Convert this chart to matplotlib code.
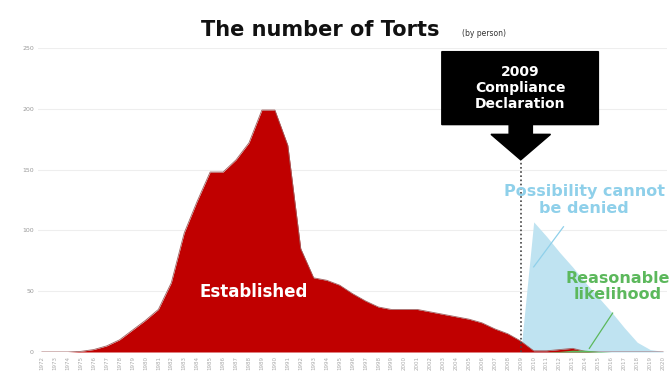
import matplotlib
matplotlib.use("Agg")
import matplotlib.pyplot as plt
from matplotlib.patches import Polygon

years = list(range(1972, 2021))
established = [0, 0, 0, 0.5, 2, 5, 10, 18, 26, 35, 57, 98, 124, 148, 148, 158, 172, 199, 199, 170,
               85, 61, 59, 55, 48, 42, 37, 35, 35, 35, 33, 31, 29, 27, 24, 19, 15, 9, 1, 1,
               2, 3, 0.5, 0, 0, 0, 0, 0, 0]
possibility = [0] * 38 + [107, 95, 82, 70, 57, 45, 33, 20, 8, 2, 0.5]
reasonable = [0] * 40 + [0.5, 1.5, 1.5, 0.5, 0, 0, 0, 0, 0]
yticks = [0, 50, 100, 150, 200, 250]

RED = "#c00000"
BLUE = "#bfe3f1"
BLUE_TXT = "#8fd0ea"
GREEN = "#5cb85c"

fig = plt.figure(figsize=(6.71, 3.76), dpi=100)
ax = fig.add_axes([38 / 671, 24 / 376, (667 - 38) / 671, (352 - 48) / 376])
ax.set_xlim(1971.7, 2020.3)
ax.set_ylim(0, 250)

for y in yticks[1:]:
    ax.axhline(y, color="#eeeeee", lw=0.8, zorder=0)

ax.fill_between(years, possibility, color=BLUE, lw=0, zorder=1)
ax.fill_between(years, established, color=RED, lw=0, zorder=2)
ax.plot(years, established, color="#a06060", lw=0.6, zorder=2)
ax.fill_between(years, reasonable, color=GREEN, lw=0, zorder=3)
ax.axhline(0, color="#d0d0d0", lw=0.8, zorder=1)

ax.set_xticks(years)
ax.set_xticklabels([str(y) for y in years], rotation=90, fontsize=4, color="#aaaaaa")
ax.set_yticks(yticks)
ax.set_yticklabels([str(v) for v in yticks], fontsize=4.5, color="#999999")
ax.tick_params(length=0, pad=3)
for s in ax.spines.values():
    s.set_visible(False)

# dotted line for 2009
ax.plot([2009, 2009], [0, 156], color="#444444", ls=(0, (1, 1.5)), lw=1.2, zorder=4)

# callout box with down arrow (in data coords)
callout = [(2002.9, 247), (2015.0, 247), (2015.0, 187), (2009.9, 187), (2009.9, 179),
           (2011.3, 179), (2009.0, 158), (2006.7, 179), (2008.1, 179), (2008.1, 187),
           (2002.9, 187)]
ax.add_patch(Polygon(callout, closed=True, color="black", zorder=5, clip_on=False))
ax.text(2008.95, 217, "2009\nCompliance\nDeclaration", color="white", fontsize=10,
        fontweight="bold", ha="center", va="center", linespacing=1.15, zorder=6)

fig.text(320 / 671, 1 - 30 / 376, "The number of Torts", fontsize=15, fontweight="bold",
         ha="center", va="center", color="#111111")
fig.text(462 / 671, 1 - 33 / 376, "(by person)", fontsize=5.5, ha="left", va="center",
         color="#333333")

ax.text(1988.4, 49, "Established", color="white", fontsize=12, fontweight="bold",
        ha="center", va="center", zorder=6)

ax.text(2013.9, 125, "Possibility cannot\nbe denied", color=BLUE_TXT, fontsize=11.5,
        fontweight="bold", ha="center", va="center", linespacing=1.1, zorder=6, clip_on=False)
ax.plot([2012.3, 2010.0], [103, 70], color=BLUE_TXT, lw=0.9, zorder=6)

ax.text(2016.5, 54, "Reasonable\nlikelihood", color=GREEN, fontsize=11.5,
        fontweight="bold", ha="center", va="center", linespacing=1.1, zorder=6, clip_on=False)
ax.plot([2016.1, 2014.3], [32, 3], color=GREEN, lw=0.9, zorder=6)

fig.savefig("out.png", dpi=100)
